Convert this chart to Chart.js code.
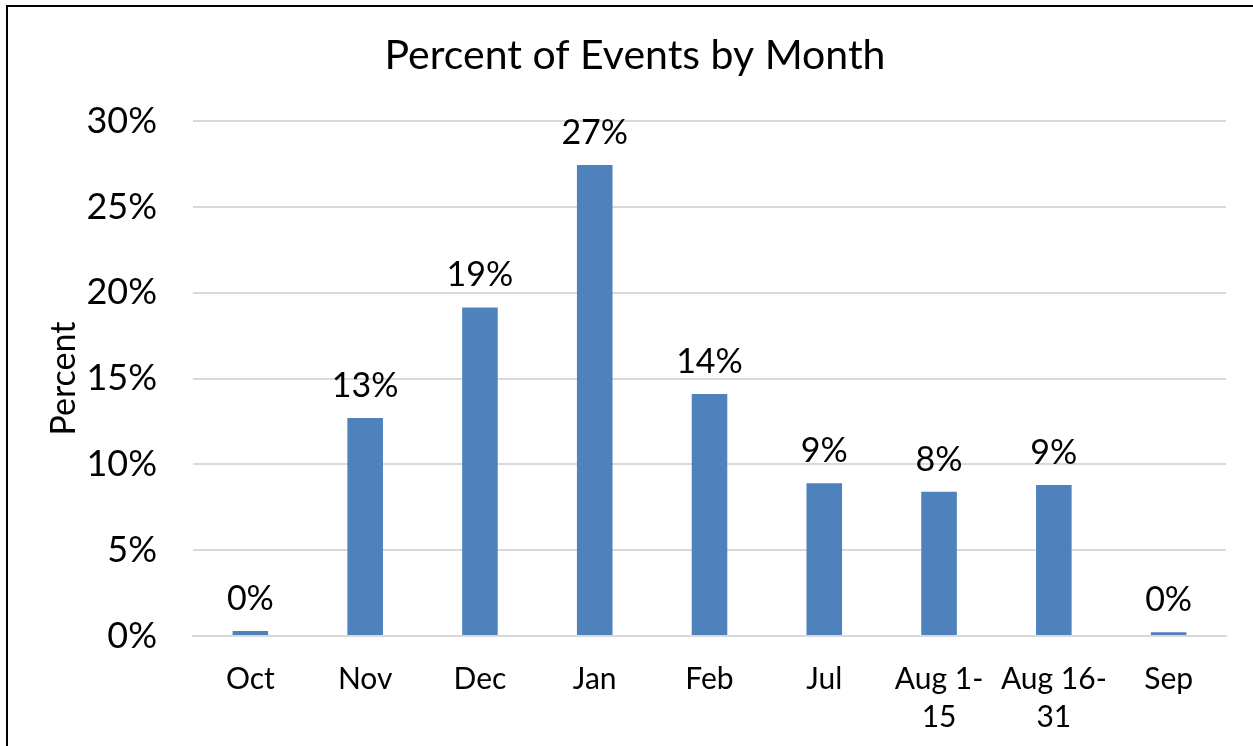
<!DOCTYPE html>
<html>
<head>
<meta charset="utf-8">
<script src="https://cdn.jsdelivr.net/npm/chart.js@4"></script>
<style>
  html, body { margin: 0; padding: 0; background: #fff; overflow: hidden; }
  #wrap { position: relative; width: 1253px; height: 746px; }
  #frame {
    position: absolute; left: 6px; top: 5px; width: 1400px; height: 900px;
    border-left: 2px solid #000; border-top: 2px solid #000; pointer-events: none;
  }
  canvas { position: absolute; left: 0; top: 0; }
</style>
</head>
<body>
<div id="wrap">
  <canvas id="chart" width="1253" height="746"></canvas>
  <div id="frame"></div>
</div>
<script>
const months   = ["Oct", "Nov", "Dec", "Jan", "Feb", "Jul", ["Aug 1-", "15"], ["Aug 16-", "31"], "Sep"];
const percents = [0.29, 12.7, 19.15, 27.45, 14.1, 8.9, 8.4, 8.8, 0.22];
const yTicks   = [0, 5, 10, 15, 20, 25, 30];

const FONT = "Lato, 'Open Sans', sans-serif";

// --- data labels above the bars ---
const barLabels = {
  id: "barLabels",
  afterDatasetsDraw(chart) {
    const ctx  = chart.ctx;
    const meta = chart.getDatasetMeta(0);
    ctx.save();
    ctx.font = `34px ${FONT}`;
    ctx.fillStyle = "#000";
    ctx.textAlign = "center";
    ctx.textBaseline = "alphabetic";
    meta.data.forEach((bar, i) => {
      ctx.fillText(Math.round(percents[i]) + "%", bar.x, bar.y - 21);
    });
    ctx.restore();
  }
};

new Chart(document.getElementById("chart"), {
  type: "bar",
  data: {
    labels: months,
    datasets: [{
      data: percents,
      backgroundColor: "#4F81BD",
      borderWidth: 0,
      barPercentage: 0.62,
      categoryPercentage: 0.5
    }]
  },
  options: {
    responsive: false,
    animation: false,
    devicePixelRatio: 1,
    layout: { padding: { left: 44, right: 27, top: 0, bottom: 0 } },
    plugins: {
      legend: { display: false },
      tooltip: { enabled: false },
      title: {
        display: true,
        text: "Percent of Events by Month",
        color: "#000",
        font: { family: FONT, size: 41, weight: "normal" },
        padding: { top: 31, bottom: 41 }
      }
    },
    scales: {
      x: {
        grid: { display: false },
        border: { display: true, color: "#d9d9d9", width: 2 },
        ticks: {
          color: "#000",
          font: { family: FONT, size: 30, lineHeight: 1.27 },
          padding: 16,
          maxRotation: 0,
          autoSkip: false
        },
        afterFit(scale) { scale.height = 110; }
      },
      y: {
        min: 0,
        max: 30,
        afterBuildTicks(scale) { scale.ticks = yTicks.map(v => ({ value: v })); },
        grid: { color: "#d9d9d9", lineWidth: 2, drawTicks: false },
        border: { display: false },
        ticks: {
          color: "#000",
          font: { family: FONT, size: 36 },
          padding: 36,
          callback: v => v + "%"
        },
        title: {
          display: true,
          text: "Percent",
          color: "#000",
          font: { family: FONT, size: 34 },
          padding: 0
        },
        afterFit(scale) { scale.width = 149; }
      }
    }
  },
  plugins: [barLabels]
});
</script>
</body>
</html>
